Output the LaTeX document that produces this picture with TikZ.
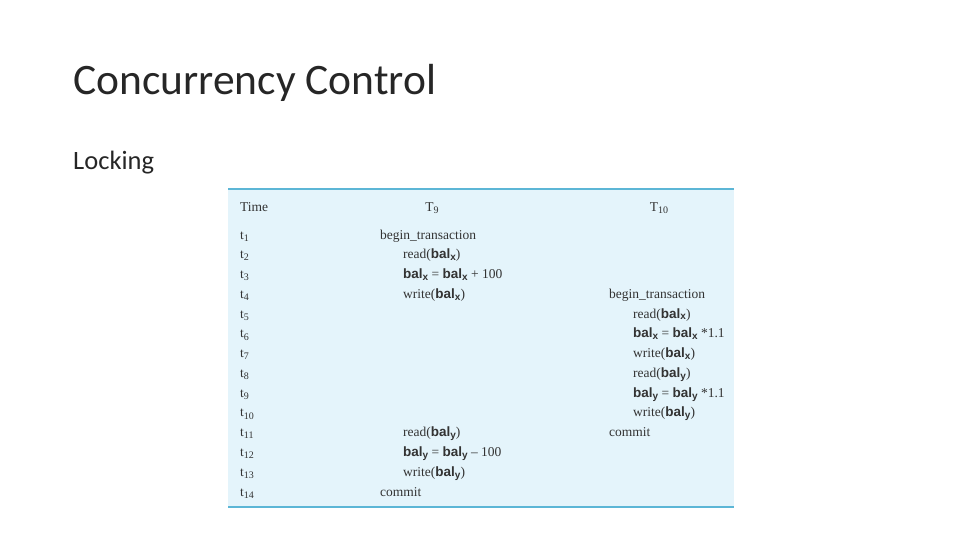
\documentclass[tikz,border=0pt]{standalone}
\usepackage{fontspec}
\setmainfont{Liberation Serif}
\newfontfamily\titlefont{Carlito}
\newfontfamily\balfont{Liberation Sans}
\definecolor{tblfill}{HTML}{E4F4FB}
\definecolor{tblline}{HTML}{5CB6D6}
\definecolor{txt}{HTML}{333333}
\definecolor{ttl}{HTML}{262626}
\newcommand{\bal}[1]{{\balfont\bfseries bal}\raisebox{-0.3ex}{\balfont\bfseries\fontsize{10}{11}\selectfont #1}}
\newcommand{\sub}[1]{\raisebox{-0.35ex}{\fontsize{10}{11}\selectfont #1}}
\begin{document}
\begin{tikzpicture}[x=1pt,y=-1pt,
  cell/.style={anchor=base west,inner sep=0pt,font=\fontsize{13.5}{15}\selectfont,text=txt},
  hcell/.style={anchor=base,inner sep=0pt,font=\fontsize{13.5}{15}\selectfont,text=txt}]
\useasboundingbox (0,0) rectangle (960,540);
\node[anchor=base west,inner sep=0pt,text=ttl,font=\titlefont\fontsize{43.5}{48}\selectfont] (title) at (73,95) {Concurrency Control};
\node[anchor=base west,inner sep=0pt,text=ttl,font=\titlefont\fontsize{26.5}{30}\selectfont] (lock) at (73,170) {Locking};
\fill[tblfill] (228,188) rectangle (734,508);
\draw[tblline,line width=2pt] (228,189) -- (734,189);
\draw[tblline,line width=2pt] (228,507) -- (734,507);
\node[cell] (h1) at (240,211) {Time};
\node[hcell] (h2) at (432,211) {T\sub{9}};
\node[hcell] (h3) at (659,211) {T\sub{10}};
\foreach \i in {1,...,14} {
  \node[cell] (t\i) at (240,{239+(\i-1)*19.77}) {t\sub{\i}};
}
\def\rowy#1{{239+(#1-1)*19.77}}
\node[cell] (a1) at (380,\rowy{1}) {begin\_transaction};
\node[cell] (a2) at (403,\rowy{2}) {read(\bal{x})};
\node[cell] (a3) at (403,\rowy{3}) {\bal{x} = \bal{x} + 100};
\node[cell] (a4) at (403,\rowy{4}) {write(\bal{x})};
\node[cell] (a11) at (403,\rowy{11}) {read(\bal{y})};
\node[cell] (a12) at (403,\rowy{12}) {\bal{y} = \bal{y} -- 100};
\node[cell] (a13) at (403,\rowy{13}) {write(\bal{y})};
\node[cell] (a14) at (380,\rowy{14}) {commit};
\node[cell] (b4) at (609,\rowy{4}) {begin\_transaction};
\node[cell] (b5) at (633,\rowy{5}) {read(\bal{x})};
\node[cell] (b6) at (633,\rowy{6}) {\bal{x} = \bal{x} *1.1};
\node[cell] (b7) at (633,\rowy{7}) {write(\bal{x})};
\node[cell] (b8) at (633,\rowy{8}) {read(\bal{y})};
\node[cell] (b9) at (633,\rowy{9}) {\bal{y} = \bal{y} *1.1};
\node[cell] (b10) at (633,\rowy{10}) {write(\bal{y})};
\node[cell] (b11) at (609,\rowy{11}) {commit};
\end{tikzpicture}
\end{document}
